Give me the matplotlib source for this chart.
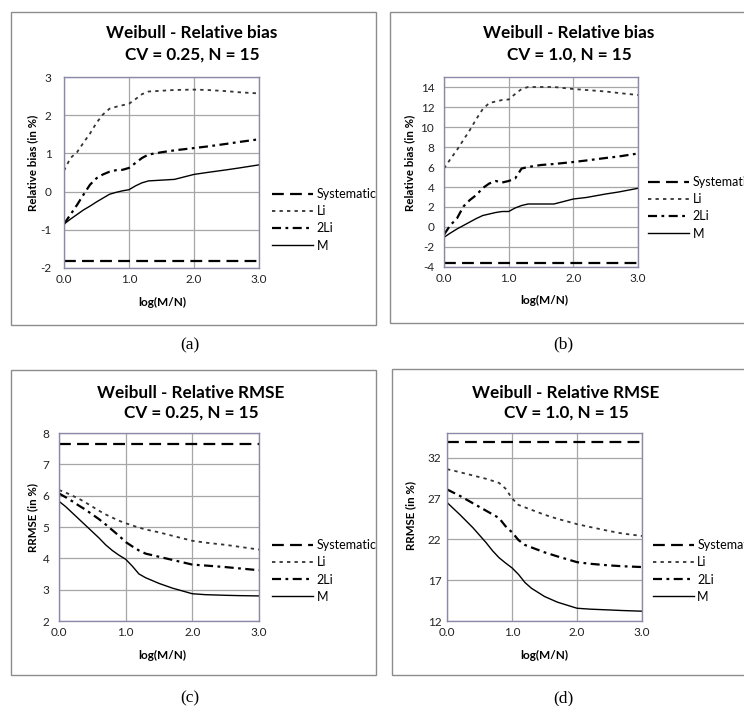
import numpy as np
import matplotlib
matplotlib.use('Agg')
import matplotlib.pyplot as plt
from matplotlib.patches import Rectangle

plt.rcParams['font.family'] = ['Lato', 'DejaVu Sans']
plt.rcParams['lines.scale_dashes'] = False

# x values: log(M/N)
log_mn = [0.0, 0.1, 0.2, 0.3, 0.4, 0.5, 0.6, 0.7, 0.8, 0.9, 1.0,
          1.1, 1.2, 1.3, 1.5, 1.7, 2.0, 2.2, 2.5, 2.7, 3.0]
series_names = ['Systematic', 'Li', '2Li', 'M']

# (a) relative bias, CV = 0.25
bias_025_sys = -1.82
bias_025_li = [0.55, 0.88, 1.03, 1.28, 1.52, 1.80, 2.02, 2.17, 2.22, 2.26, 2.30,
               2.42, 2.55, 2.62, 2.64, 2.66, 2.67, 2.66, 2.63, 2.60, 2.57]
bias_025_2li = [-0.85, -0.60, -0.35, -0.08, 0.18, 0.35, 0.45, 0.52, 0.56, 0.57, 0.62,
                0.75, 0.88, 0.97, 1.03, 1.08, 1.14, 1.18, 1.25, 1.30, 1.37]
bias_025_m = [-0.85, -0.72, -0.60, -0.48, -0.38, -0.27, -0.17, -0.07, -0.02, 0.02, 0.05,
              0.15, 0.23, 0.28, 0.30, 0.32, 0.45, 0.50, 0.57, 0.62, 0.70]

# (b) relative bias, CV = 1.0
bias_10_sys = -3.64
bias_10_li = [5.86, 6.8, 7.7, 8.7, 9.7, 10.8, 11.8, 12.4, 12.55, 12.7, 12.75,
              13.3, 13.8, 14.0, 14.0, 14.0, 13.8, 13.7, 13.55, 13.4, 13.2]
bias_10_2li = [-0.76, 0.2, 0.85, 2.05, 2.7, 3.2, 3.9, 4.35, 4.6, 4.45, 4.6,
               4.85, 5.85, 6.0, 6.2, 6.3, 6.5, 6.65, 6.9, 7.05, 7.35]
bias_10_m = [-1.03, -0.6, -0.2, 0.15, 0.5, 0.85, 1.15, 1.3, 1.45, 1.55, 1.55,
             1.9, 2.15, 2.3, 2.3, 2.3, 2.8, 2.95, 3.3, 3.5, 3.87]

# (c) relative RMSE, CV = 0.25
rmse_025_sys = 7.66
rmse_025_li = [6.18, 6.10, 6.00, 5.90, 5.78, 5.65, 5.52, 5.40, 5.30, 5.20, 5.12,
               5.05, 4.98, 4.92, 4.83, 4.72, 4.56, 4.50, 4.43, 4.37, 4.28]
rmse_025_2li = [6.07, 5.95, 5.82, 5.68, 5.55, 5.40, 5.25, 5.08, 4.90, 4.72, 4.52,
                4.38, 4.25, 4.15, 4.05, 3.95, 3.80, 3.77, 3.72, 3.68, 3.62]
rmse_025_m = [5.82, 5.65, 5.45, 5.25, 5.05, 4.85, 4.65, 4.43, 4.25, 4.10, 3.97,
              3.75, 3.50, 3.38, 3.20, 3.05, 2.87, 2.84, 2.82, 2.81, 2.80]

# (d) relative RMSE, CV = 1.0
rmse_10_sys = 33.84
rmse_10_li = [30.57, 30.4, 30.2, 30.0, 29.8, 29.6, 29.4, 29.15, 28.9, 28.2, 27.0,
              26.2, 25.9, 25.6, 25.0, 24.5, 23.85, 23.5, 23.0, 22.7, 22.4]
rmse_10_2li = [28.1, 27.7, 27.3, 26.85, 26.4, 25.95, 25.5, 25.05, 24.6, 23.6, 22.85,
               21.9, 21.3, 21.0, 20.4, 19.9, 19.2, 19.0, 18.8, 18.7, 18.6]
rmse_10_m = [26.5, 25.75, 25.0, 24.2, 23.4, 22.5, 21.6, 20.6, 19.75, 19.1, 18.5,
             17.7, 16.7, 16.0, 15.0, 14.3, 13.56, 13.45, 13.35, 13.28, 13.2]

W, H = 744, 706
fig = plt.figure(figsize=(W / 100, H / 100), dpi=100)


def frac(x, y):
  return x / W, 1 - y / H


def add_panel(box, plot, title_xy, titles, ylabel, ylabel_xy, xlabel_xy,
              ylim, yticks, ypad, legend_xy, tag, tag_xy, data):
  # outer chart frame
  l, t, r, b = box
  fig.patches.append(Rectangle(frac(l, b), (r - l) / W, (b - t) / H,
                               transform=fig.transFigure, fill=False,
                               edgecolor='#8c8c8c', lw=1.0))
  l, t, r, b = plot
  ax = fig.add_axes([l / W, 1 - b / H, (r - l) / W, (b - t) / H])
  sys_val, li, li2, m = data
  x = np.array(log_mn)
  h_sys, = ax.plot(x, np.full(len(x), sys_val), color='black', lw=1.6,
                   dashes=(8.5, 4.5))
  h_li, = ax.plot(x, li, color='#333333', lw=1.3, dashes=(2.4, 3.0))
  h_2li, = ax.plot(x, li2, color='black', lw=1.6, dashes=(6.5, 3.2, 2.0, 3.2))
  h_m, = ax.plot(x, m, color='black', lw=1.0)
  ax.set_xlim(0, 3)
  ax.set_ylim(*ylim)
  ax.set_xticks([0, 1, 2, 3])
  ax.set_xticklabels(['0.0', '1.0', '2.0', '3.0'])
  ax.set_yticks(yticks)
  ax.set_yticklabels([str(v) for v in yticks])
  ax.grid(True, color='#a6a6a6', lw=0.9)
  ax.set_axisbelow(True)
  for s in ax.spines.values():
    s.set_color('#8a8aa8')
    s.set_linewidth(1.0)
  ax.tick_params(axis='both', length=0, labelsize=8.5, colors='#222222')
  ax.tick_params(axis='x', pad=4)
  ax.tick_params(axis='y', pad=ypad)

  tx, ty1, ty2 = title_xy
  fig.text(*frac(tx, ty1), titles[0], ha='center', va='center',
           fontsize=12.3, fontweight='bold')
  fig.text(*frac(tx, ty2), titles[1], ha='center', va='center',
           fontsize=12.3, fontweight='bold')
  fig.text(*frac(*ylabel_xy), ylabel, ha='center', va='center', rotation=90,
           fontsize=8.3, fontweight='bold')
  fig.text(*frac(*xlabel_xy), 'log(M/N)', ha='center', va='center',
           fontsize=8.5, fontweight='bold')
  fig.text(*frac(*tag_xy), tag, ha='center', va='center', fontsize=12.5,
           family='Liberation Serif')

  fig.legend([h_sys, h_li, h_2li, h_m], series_names, loc='upper left',
             bbox_to_anchor=frac(*legend_xy), frameon=False, fontsize=9,
             handlelength=3.3, handletextpad=0.25, labelspacing=0.42,
             borderpad=0, borderaxespad=0)
  return ax


add_panel(box=(11, 12, 376, 325), plot=(64, 77, 259, 268),
          title_xy=(192, 33, 55),
          titles=['Weibull - Relative bias', 'CV = 0.25, N = 15'],
          ylabel='Relative bias (in %)', ylabel_xy=(33, 163),
          xlabel_xy=(162, 302), ylim=(-2, 3), yticks=[-2, -1, 0, 1, 2, 3],
          ypad=9, legend_xy=(272, 188), tag='(a)', tag_xy=(190, 345),
          data=(bias_025_sys, bias_025_li, bias_025_2li, bias_025_m))

add_panel(box=(390, 12, 760, 323), plot=(444, 77, 638, 267),
          title_xy=(569, 33, 55),
          titles=['Weibull - Relative bias', 'CV = 1.0, N = 15'],
          ylabel='Relative bias (in %)', ylabel_xy=(410, 163),
          xlabel_xy=(544, 300), ylim=(-4, 15), yticks=list(range(-4, 15, 2)),
          ypad=7, legend_xy=(648, 176), tag='(b)', tag_xy=(563, 344),
          data=(bias_10_sys, bias_10_li, bias_10_2li, bias_10_m))

add_panel(box=(11, 370, 376, 675), plot=(59, 433, 259, 621),
          title_xy=(191, 393, 413),
          titles=['Weibull - Relative RMSE', 'CV = 0.25, N = 15'],
          ylabel='RRMSE (in %)', ylabel_xy=(33, 517),
          xlabel_xy=(162, 655), ylim=(2, 8), yticks=[2, 3, 4, 5, 6, 7, 8],
          ypad=7, legend_xy=(272, 539), tag='(c)', tag_xy=(190, 698),
          data=(rmse_025_sys, rmse_025_li, rmse_025_2li, rmse_025_m))

add_panel(box=(392, 369, 760, 675), plot=(447, 433, 642, 621),
          title_xy=(566, 393, 413),
          titles=['Weibull - Relative RMSE', 'CV = 1.0, N = 15'],
          ylabel='RRMSE (in %)', ylabel_xy=(411, 516),
          xlabel_xy=(544, 655), ylim=(12, 35), yticks=[12, 17, 22, 27, 32],
          ypad=4, legend_xy=(653, 539), tag='(d)', tag_xy=(563, 698),
          data=(rmse_10_sys, rmse_10_li, rmse_10_2li, rmse_10_m))

fig.savefig('out.png', dpi=100)
